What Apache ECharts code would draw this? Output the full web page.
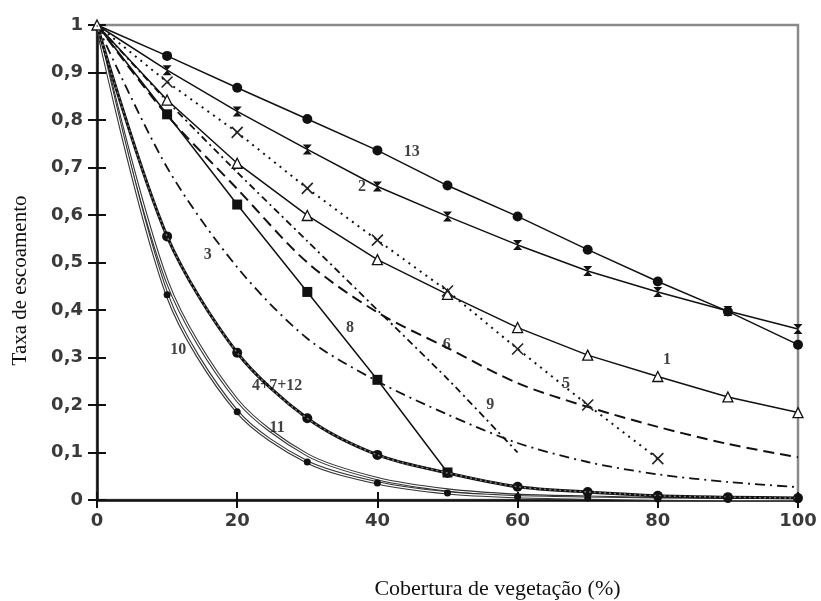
<!DOCTYPE html>
<html>
<head>
<meta charset="utf-8">
<script src="https://cdn.jsdelivr.net/npm/echarts@6/dist/echarts.min.js"></script>
<style>
  html, body { margin: 0; padding: 0; background: #fff; }
  #chart { width: 821px; height: 601px; }
</style>
</head>
<body>
<div id="chart"></div>
<script>
// Vegetation cover (%) on the x axis
const xs = [0, 10, 20, 30, 40, 50, 60, 70, 80, 90, 100];

// Runoff rate for each curve (values at xs; shorter curves stop early)
const curve13 = [1, 0.935, 0.868, 0.802, 0.736, 0.662, 0.597, 0.527, 0.46, 0.397, 0.327];
const curve2 = [1, 0.905, 0.818, 0.738, 0.66, 0.597, 0.537, 0.482, 0.438, 0.398, 0.36];
const curve1 = [1, 0.842, 0.709, 0.599, 0.506, 0.433, 0.363, 0.305, 0.26, 0.217, 0.184];
const curve5 = [1, 0.88, 0.774, 0.656, 0.547, 0.44, 0.318, 0.2, 0.087];
const curve8 = [1, 0.812, 0.622, 0.438, 0.253, 0.058];
const curve6 = [1, 0.81, 0.655, 0.5, 0.395, 0.32, 0.246, 0.196, 0.154, 0.118, 0.09];
const curve9 = [1, 0.84, 0.69, 0.545, 0.4, 0.255, 0.1];
const curve3 = [1, 0.7, 0.49, 0.34, 0.25, 0.18, 0.12, 0.08, 0.054, 0.038, 0.027];
const curve4_7_12 = [1, 0.555, 0.31, 0.172, 0.095, 0.057, 0.028, 0.017, 0.009, 0.006, 0.004];
const curve10 = [1, 0.432, 0.186, 0.08, 0.036, 0.015, 0.007, 0.004, 0.002, 0.001, 0.001];
const curve11 = [1, 0.46, 0.21, 0.095, 0.045, 0.021, 0.01, 0.006, 0.003, 0.002, 0.002];

// Curve identifiers written beside the lines: [x, y, text]
const curveLabels = [
  [44.9, 0.733, '13'],
  [37.8, 0.66, '2'],
  [15.8, 0.516, '3'],
  [36.1, 0.362, '8'],
  [49.9, 0.326, '6'],
  [56.1, 0.2, '9'],
  [66.9, 0.244, '5'],
  [81.3, 0.295, '1'],
  [11.6, 0.316, '10'],
  [25.7, 0.24, '4+7+12'],
  [25.7, 0.152, '11']
];

const xTicks = { min: 0, max: 100, interval: 20 };
const yTicks = { min: 0, max: 1, interval: 0.1 };

const INK = '#111';

function pairs(ys, hideFirst) {
  return ys.map((y, i) => {
    const p = [xs[i], y];
    return (hideFirst && i === 0) ? { value: p, symbol: 'none' } : p;
  });
}

function line(name, ys, opts) {
  return {
    name: name,
    type: 'line',
    data: pairs(ys, opts.hideFirst),
    symbol: opts.symbol || 'none',
    symbolSize: opts.size || 9,
    showSymbol: !!opts.symbol,
    smooth: opts.smooth || false,
    lineStyle: { color: opts.color || INK, width: opts.width === undefined ? 1.5 : opts.width, type: opts.type || 'solid' },
    itemStyle: opts.item || { color: INK, borderColor: INK, borderWidth: 0 },
    z: opts.z || 3,
    silent: true,
    animation: false
  };
}

const HOURGLASS = 'path://M0,0 L10,0 L0,12 L10,12 Z';
const CROSS = 'path://M0,0 L10,10 M10,0 L0,10';

const series = [
  line('13', curve13, { symbol: 'circle', size: 10, hideFirst: true }),
  line('2', curve2, { symbol: HOURGLASS, size: [9, 10], hideFirst: true }),
  line('1', curve1, { symbol: 'triangle', size: 10,
    item: { color: '#fff', borderColor: INK, borderWidth: 1.3 } }),
  line('5', curve5, { symbol: CROSS, size: 11, type: [2, 5], width: 2, hideFirst: true,
    item: { color: 'rgba(0,0,0,0)', borderColor: '#222', borderWidth: 1.6 } }),
  line('8', curve8, { symbol: 'rect', size: 10, hideFirst: true }),
  line('6', curve6, { type: [11, 6], width: 2, smooth: 0.3 }),
  line('9', curve9, { type: [7, 4, 2, 4], width: 1.8, smooth: 0.2 }),
  line('3', curve3, { type: [10, 5, 2, 5], width: 1.8, smooth: 0.3 }),
  // double-stroke look for the two steepest curves
  line('11', curve11, { width: 3.4, color: '#333', smooth: 0.3, z: 2 }),
  line('11-inner', curve11, { width: 1.2, color: '#fff', smooth: 0.3, z: 2 }),
  line('10', curve10, { width: 3.4, color: '#333', smooth: 0.3, z: 2 }),
  line('10-inner', curve10, { width: 1.2, color: '#fff', smooth: 0.3, z: 2 }),
  line('10-marks', curve10, { symbol: 'circle', size: 7, width: 0, hideFirst: true, z: 4 }),
  line('4+7+12', curve4_7_12, { symbol: 'circle', size: 10, width: 3, smooth: 0.3, hideFirst: true }),
  line('4+7+12-dots', curve4_7_12, { width: 1.5, type: [2, 3], color: '#777', smooth: 0.3, z: 4 }),
  {
    name: 'labels',
    type: 'scatter',
    data: curveLabels.map(d => ({ value: [d[0], d[1]], name: d[2] })),
    symbol: 'circle',
    symbolSize: 1,
    itemStyle: { color: 'rgba(0,0,0,0)' },
    silent: true,
    animation: false,
    z: 6,
    label: {
      show: true,
      position: 'inside',
      formatter: p => p.name,
      fontFamily: '"Liberation Serif", "DejaVu Serif", serif',
      fontWeight: 'bold',
      fontSize: 16,
      color: '#111'
    }
  }
];

const tickFont = {
  fontFamily: '"DejaVu Sans", "Liberation Sans", sans-serif',
  fontWeight: 'bold',
  fontSize: 18,
  color: '#3a3a3a'
};

const nameFamily = '"Liberation Serif", "DejaVu Serif", serif';

const chart = echarts.init(document.getElementById('chart'), null, { renderer: 'canvas' });
chart.setOption({
  backgroundColor: '#fff',
  animation: false,
  grid: {
    left: 97, right: 23, top: 25, bottom: 101,
    outerBoundsMode: 'none',
    show: true, borderColor: '#8a8a8a', borderWidth: 2.5, backgroundColor: 'transparent'
  },
  xAxis: [
    Object.assign({
      type: 'value',
      name: 'Cobertura de vegetação (%)',
      nameLocation: 'middle',
      nameGap: 78,
      nameTextStyle: { fontFamily: nameFamily, fontSize: 22, color: '#111', padding: [0, 0, 0, 100] },
      axisLine: { show: true, onZero: false, lineStyle: { color: INK, width: 2.5 } },
      axisTick: { show: true, length: 8, lineStyle: { color: INK, width: 2 } },
      axisLabel: Object.assign({ margin: 12 }, tickFont),
      splitLine: { show: false }
    }, xTicks),
    Object.assign({
      type: 'value', position: 'bottom',
      axisLine: { show: false },
      axisTick: { show: true, inside: true, length: 8, lineStyle: { color: INK, width: 2 } },
      axisLabel: { show: false },
      splitLine: { show: false }
    }, xTicks)
  ],
  yAxis: [
    Object.assign({
      type: 'value',
      name: 'Taxa de escoamento',
      nameLocation: 'middle',
      nameGap: 66,
      nameTextStyle: { fontFamily: nameFamily, fontSize: 21, color: '#111', padding: [0, 36, 0, 0] },
      axisLine: { show: true, onZero: false, lineStyle: { color: INK, width: 2.5 } },
      axisTick: { show: true, length: 9, lineStyle: { color: INK, width: 2 } },
      axisLabel: Object.assign({
        margin: 14,
        formatter: v => (v === 0 || v === 1) ? String(v) : v.toFixed(1).replace('.', ',')
      }, tickFont),
      splitLine: { show: false }
    }, yTicks),
    Object.assign({
      type: 'value', position: 'left',
      axisLine: { show: false },
      axisTick: { show: true, inside: true, length: 9, lineStyle: { color: INK, width: 2 } },
      axisLabel: { show: false },
      splitLine: { show: false }
    }, yTicks)
  ],
  series: series
});
</script>
</body>
</html>
